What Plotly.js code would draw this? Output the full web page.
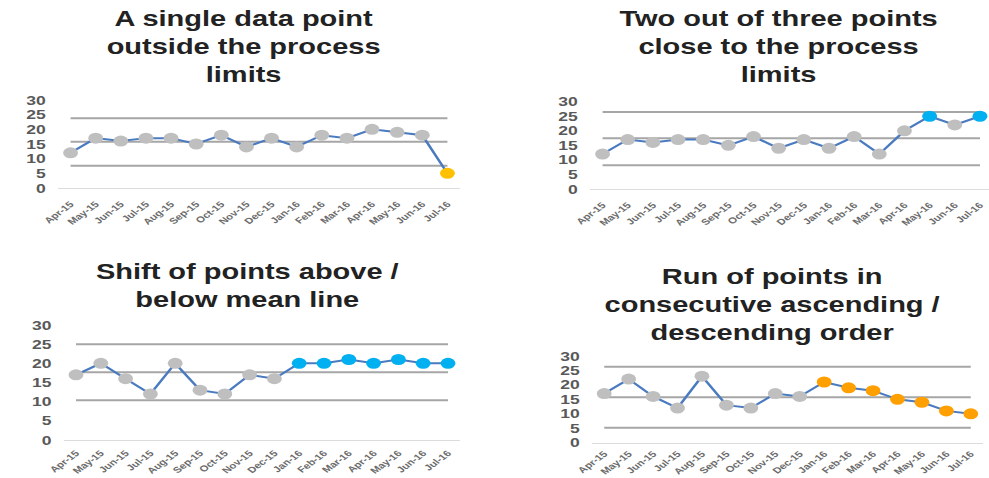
<!DOCTYPE html>
<html>
<head>
<meta charset="utf-8">
<script src="https://cdn.plot.ly/plotly-3.0.1.min.js"></script>
<style>
  html, body { margin: 0; padding: 0; background: #fff; overflow: hidden; }
  #wrap { width: 989px; height: 478px; overflow: hidden; }
  /* charts are laid out narrower and widened horizontally, as on the slide */
  #chart { transform-origin: 0 0; }
</style>
</head>
<body>
<div id="wrap"><div id="chart"></div></div>
<script>
// Monthly readings, Apr 2015 – Jul 2016
const months = ['Apr-15','May-15','Jun-15','Jul-15','Aug-15','Sep-15','Oct-15','Nov-15',
                'Dec-15','Jan-16','Feb-16','Mar-16','Apr-16','May-16','Jun-16','Jul-16'];

// Rule 1: a single point outside the process limits
const singlePointValues = [12,17,16,17,17,15,18,14,17,14,18,17,20,19,18,5];
const singlePointLimits = [23.8, 15.8, 7.6];          // upper, mean, lower
const singlePointFlags  = ['Jul-16'];

// Rule 2: two out of three points close to the limits
const twoOfThreeValues = [12,17,16,17,17,15,18,14,17,14,18,12,20,25,22,25];
const twoOfThreeLimits = [26.5, 17.4, 8.2];
const twoOfThreeFlags  = ['May-16','Jul-16'];

// Rule 3: shift of points above / below the mean
const shiftValues = [17,20,16,12,20,13,12,17,16,20,20,21,20,21,20,20];
const shiftLimits = [25.0, 17.7, 10.4];
const shiftFlags  = ['Jan-16','Feb-16','Mar-16','Apr-16','May-16','Jun-16','Jul-16'];

// Rule 4: run of consecutive ascending / descending points
const runValues = [17,22,16,12,23,13,12,17,16,21,19,18,15,14,11,10];
const runLimits = [26.3, 15.7, 5.2];
const runFlags  = ['Jan-16','Feb-16','Mar-16','Apr-16','May-16','Jun-16','Jul-16'];

const titles = [
  'A single data point<br>outside the process<br>limits',
  'Two out of three points<br>close to the process<br>limits',
  'Shift of points above /<br>below mean line',
  'Run of points in<br>consecutive ascending /<br>descending order'
];

// ---- page geometry (final pixel space 989 x 478) ----
const FULL_W = 989, FULL_H = 478;
const STRETCH = 1.35;
const PLOT_W = Math.round(FULL_W / STRETCH);

const fx = px => px / FULL_W;
const fy = py => 1 - py / FULL_H;

const panels = [
  { values: singlePointValues, limits: singlePointLimits, flags: singlePointFlags, flagColor: '#ffc000',
    x: [58, 460], xr: [-0.5, 15.5], y: [100, 188], title: [244, 47], standoff: 7 },
  { values: twoOfThreeValues, limits: twoOfThreeLimits, flags: twoOfThreeFlags, flagColor: '#00b0f0',
    x: [590, 989], xr: [-0.5, 15.36], y: [101.7, 189], title: [778, 47], standoff: 7 },
  { values: shiftValues, limits: shiftLimits, flags: shiftFlags, flagColor: '#00b0f0',
    x: [63.6, 460.4], xr: [-0.5, 15.5], y: [325, 440], title: [247, 285.5], standoff: 4 },
  { values: runValues, limits: runLimits, flags: runFlags, flagColor: '#ffa000',
    x: [592, 983], xr: [-0.5, 15.5], y: [356, 442.7], title: [773, 304.5], standoff: 2 }
];

const FONT = '"Liberation Sans", Arial, Helvetica, sans-serif';
const traces = [];
const layout = {
  width: PLOT_W, height: FULL_H,
  margin: { l: 0, r: 0, t: 0, b: 0 },
  paper_bgcolor: '#ffffff', plot_bgcolor: 'rgba(0,0,0,0)',
  showlegend: false,
  font: { family: FONT },
  annotations: []
};

panels.forEach((p, i) => {
  const n = i === 0 ? '' : String(i + 1);
  const xa = 'x' + n, ya = 'y' + n;

  // control limit and mean lines
  p.limits.forEach(level => {
    traces.push({
      type: 'scatter', mode: 'lines', xaxis: xa, yaxis: ya,
      x: months, y: months.map(() => level),
      line: { color: '#a6a6a6', width: 2 }, hoverinfo: 'skip'
    });
  });

  // measured series, flagged points coloured
  traces.push({
    type: 'scatter', mode: 'lines+markers', xaxis: xa, yaxis: ya,
    x: months, y: p.values,
    line: { color: '#4a7bc0', width: 2 },
    marker: {
      size: 11,
      color: months.map(m => p.flags.includes(m) ? p.flagColor : '#bfbfbf'),
      line: { width: 0 }
    }
  });

  layout['xaxis' + n] = {
    domain: [fx(p.x[0]), fx(p.x[1])],
    anchor: ya, type: 'category', range: p.xr,
    showgrid: false, zeroline: false,
    showline: true, linecolor: '#dcdcdc', linewidth: 1,
    ticks: '', tickangle: -45, ticklabelstandoff: p.standoff,
    tickfont: { size: 8.5, color: '#6b6b6b', weight: 700, family: FONT },
    fixedrange: true
  };
  layout['yaxis' + n] = {
    domain: [fy(p.y[1]), fy(p.y[0])],
    anchor: xa, range: [0, 30], dtick: 5, tick0: 0,
    showgrid: false, zeroline: false, showline: false,
    ticks: '', ticklabelstandoff: 8,
    tickfont: { size: 13, color: '#595959', weight: 700, family: FONT },
    fixedrange: true
  };

  layout.annotations.push({
    xref: 'paper', yref: 'paper',
    x: fx(p.title[0]), y: fy(p.title[1]),
    xanchor: 'center', yanchor: 'middle', align: 'center',
    showarrow: false, text: titles[i],
    font: { size: 21.5, color: '#222222', weight: 700, family: FONT }
  });
});

const el = document.getElementById('chart');
el.style.width = PLOT_W + 'px';
el.style.height = FULL_H + 'px';
el.style.transform = 'scaleX(' + (FULL_W / PLOT_W) + ')';

Plotly.newPlot(el, traces, layout, { displayModeBar: false, staticPlot: true });
</script>
</body>
</html>
